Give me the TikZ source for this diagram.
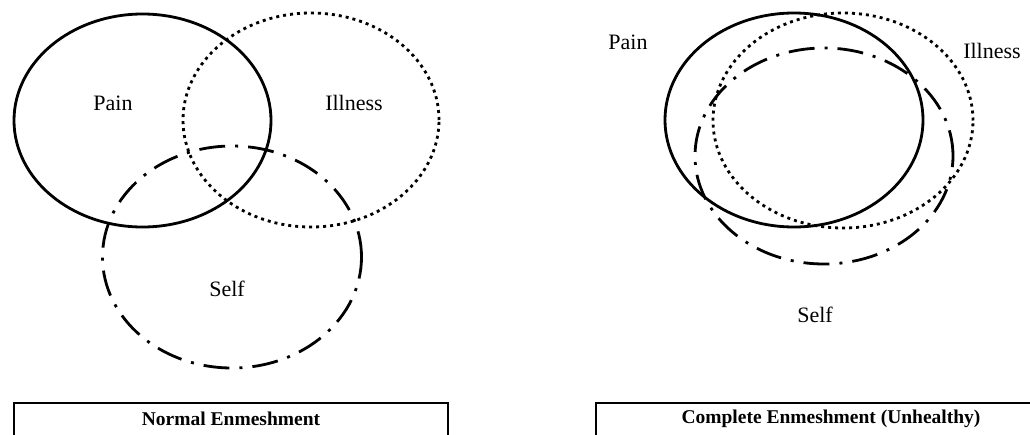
\documentclass[tikz,border=0pt]{standalone}
\usepackage{fontspec}
\setmainfont{Liberation Serif}
\usetikzlibrary{shapes.geometric}

\tikzset{
  ring/.style={ellipse, inner sep=0pt, line width=2.8pt},
  painring/.style={ring, draw},
  illnessring/.style={ring, draw, line cap=butt, dash pattern=on 3pt off 4pt},
  selfring/.style={ring, draw, dash pattern=on 26pt off 10pt on 3pt off 10pt},
  lbl/.style={font=\fontsize{22}{26}\selectfont, inner sep=0pt},
  caption/.style={font=\fontsize{19.5}{23}\selectfont\bfseries, inner sep=0pt},
  capbox/.style={draw, line width=1.4pt}
}

\begin{document}
\begin{tikzpicture}[x=1pt, y=-1pt]
  \useasboundingbox (0,0) rectangle (1030,434);
  \clip (0,0) rectangle (1030,434);

  % Normal enmeshment: three partly overlapping sets
  \node[painring, minimum width=257pt, minimum height=213pt] (painA) at (142.5,120.5) {};
  \node[illnessring, minimum width=256pt, minimum height=214pt] (illA) at (311,120) {};
  \node[selfring, minimum width=259pt, minimum height=222pt] (selfA) at (232,257) {};
  \node[lbl] (painAl) at (113,103) {Pain};
  \node[lbl] (illAl) at (354,103) {Illness};
  \node[lbl] (selfAl) at (227,289) {Self};

  % Complete enmeshment: the sets almost coincide
  \node[painring, minimum width=258pt, minimum height=214pt] (painB) at (794,120) {};
  \node[illnessring, minimum width=260pt, minimum height=215pt] (illB) at (843,120.5) {};
  \node[selfring, minimum width=258pt, minimum height=216pt] (selfB) at (824,156) {};
  \node[lbl] (painBl) at (628,42) {Pain};
  \node[lbl] (illBl) at (992,51) {Illness};
  \node[lbl] (selfBl) at (815,315) {Self};

  % Caption boxes (open at the lower edge)
  \draw[capbox] (14,450) coordinate (bA1) -- (14,403) -- (448,403) -- (448,450) coordinate (bA2);
  \node[caption] (capA) at (231,419) {Normal Enmeshment};
  \draw[capbox] (596,450) coordinate (bB1) -- (596,403) -- (1066,403) -- (1066,450) coordinate (bB2);
  \node[caption] (capB) at (831,419) {Complete Enmeshment (Unhealthy)};
\end{tikzpicture}
\end{document}
